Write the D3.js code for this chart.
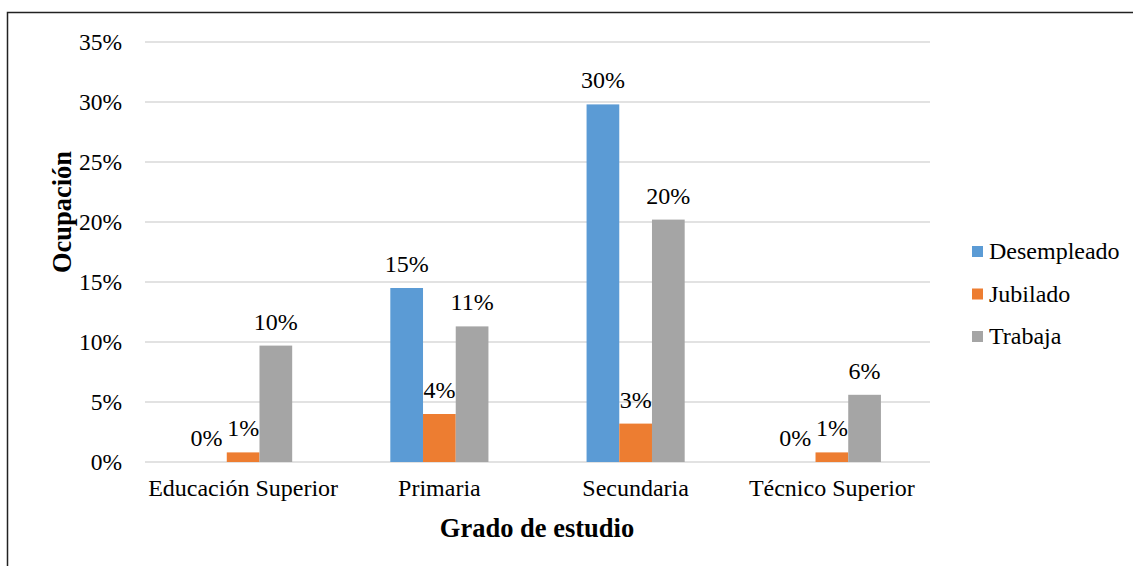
<!DOCTYPE html>
<html>
<head>
<meta charset="utf-8">
<script src="https://cdn.jsdelivr.net/npm/d3@7"></script>
<style>
  body { margin: 0; background: #fff; }
  text { font-family: "Liberation Serif", "Times New Roman", serif; fill: #000; }
</style>
</head>
<body>
<svg width="1133" height="566"></svg>
<script>
// Data
var categories = ['Educación Superior', 'Primaria', 'Secundaria', 'Técnico Superior']
var series = ['Desempleado', 'Jubilado', 'Trabaja']
var desempleado = [0, 14.5, 29.8, 0]
var jubilado = [0.8, 4.0, 3.2, 0.8]
var trabaja = [9.7, 11.3, 20.2, 5.6]
var valueLabels = [
  ['0%', '1%', '10%'],
  ['15%', '4%', '11%'],
  ['30%', '3%', '20%'],
  ['0%', '1%', '6%']
]
var yTicks = [0, 5, 10, 15, 20, 25, 30, 35]
var colors = ['#5B9BD5', '#ED7D31', '#A5A5A5']

var values = [desempleado, jubilado, trabaja]

var svg = d3.select('svg'),
  width = +svg.attr('width'),
  height = +svg.attr('height')

// Outer frame
svg.append('rect')
  .attr('x', 7.5).attr('y', 12.5)
  .attr('width', 1300).attr('height', 700)
  .attr('fill', 'none').attr('stroke', '#222').attr('stroke-width', 1.5)

var margin = { left: 145, right: 930, top: 42, bottom: 462 }

var x = d3.scaleBand()
  .domain(categories)
  .range([margin.left, margin.right])
  .paddingInner(0.5)
  .paddingOuter(0.25)

var xs = d3.scaleBand()
  .domain(series)
  .range([0, x.bandwidth()])

var y = d3.scaleLinear()
  .domain([0, 35])
  .range([margin.bottom, margin.top])

// Gridlines
svg.append('g')
  .selectAll('line')
  .data(yTicks)
  .enter()
  .append('line')
  .attr('x1', margin.left)
  .attr('x2', margin.right)
  .attr('y1', function(d) { return y(d) })
  .attr('y2', function(d) { return y(d) })
  .attr('stroke', '#D9D9D9')
  .attr('stroke-width', 1.5)

// Y axis labels
var yAxis = d3.axisLeft(y)
  .tickValues(yTicks)
  .tickFormat(function(d) { return d + '%' })
  .tickSize(0)
  .tickPadding(23)
var gy = svg.append('g')
  .attr('transform', 'translate(' + margin.left + ',0)')
  .call(yAxis)
gy.select('.domain').remove()
gy.selectAll('text')
  .style('font-family', '"Liberation Serif", serif')
  .style('font-size', '23.5px')
  .attr('fill', '#000')

// X axis labels
var xAxis = d3.axisBottom(x).tickSize(0).tickPadding(17)
var gx = svg.append('g')
  .attr('transform', 'translate(0,' + margin.bottom + ')')
  .call(xAxis)
gx.select('.domain').remove()
gx.selectAll('text')
  .style('font-family', '"Liberation Serif", serif')
  .style('font-size', '24px')
  .attr('fill', '#000')

// Bars
var groups = svg.append('g')
  .selectAll('g')
  .data(categories)
  .enter()
  .append('g')
  .attr('transform', function(d) { return 'translate(' + x(d) + ',0)' })

groups.selectAll('rect')
  .data(function(d, i) {
    return series.map(function(s, j) { return { s: s, v: values[j][i], c: colors[j] } })
  })
  .enter()
  .append('rect')
  .attr('x', function(d) { return xs(d.s) })
  .attr('width', xs.bandwidth())
  .attr('y', function(d) { return y(d.v) })
  .attr('height', function(d) { return y(0) - y(d.v) })
  .attr('fill', function(d) { return d.c })

groups.selectAll('text.lbl')
  .data(function(d, i) {
    return series.map(function(s, j) { return { s: s, v: values[j][i], t: valueLabels[i][j] } })
  })
  .enter()
  .append('text')
  .attr('class', 'lbl')
  .attr('x', function(d) { return xs(d.s) + xs.bandwidth() / 2 - (d.v === 0 ? 4 : 0) })
  .attr('y', function(d) { return y(d.v) - 16 })
  .attr('text-anchor', 'middle')
  .style('font-size', '24px')
  .text(function(d) { return d.t })

// Axis titles
svg.append('text')
  .attr('transform', 'translate(71,' + 212 + ') rotate(-90)')
  .attr('text-anchor', 'middle')
  .style('font-size', '26.5px')
  .style('font-weight', 'bold')
  .text('Ocupación')

svg.append('text')
  .attr('x', 537)
  .attr('y', 537)
  .attr('text-anchor', 'middle')
  .style('font-size', '26.5px')
  .style('font-weight', 'bold')
  .text('Grado de estudio')

// Legend
var legend = svg.append('g')
  .attr('transform', 'translate(972,246)')
legend.selectAll('rect')
  .data(series)
  .enter()
  .append('rect')
  .attr('x', 0)
  .attr('y', function(d, i) { return i * 42.5 })
  .attr('width', 11)
  .attr('height', 11)
  .attr('fill', function(d, i) { return colors[i] })
legend.selectAll('text')
  .data(series)
  .enter()
  .append('text')
  .attr('x', 17)
  .attr('y', function(d, i) { return i * 42.5 + 13 })
  .style('font-size', '24px')
  .text(function(d) { return d })
</script>
</body>
</html>
